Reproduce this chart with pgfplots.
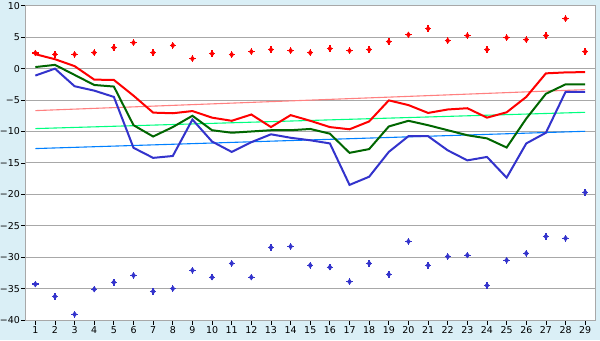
\documentclass[border=0pt]{standalone}
\usepackage{pgfplots}
\pgfplotsset{compat=1.18}
\usepackage{pgfplotstable}
\usepackage{fontspec}
\setmainfont{DejaVu Sans}
\definecolor{bgblue}{RGB}{218,239,246}
\definecolor{gridgray}{RGB}{168,168,168}
\definecolor{lred}{RGB}{255,0,0}
\definecolor{lgreen}{RGB}{0,102,0}
\definecolor{lblue}{RGB}{51,51,204}
\definecolor{tred}{RGB}{255,128,128}
\definecolor{tgreen}{RGB}{0,255,128}
\definecolor{tblue}{RGB}{0,128,255}

\pgfplotstableread{
x red green blue
1 2.3 0.25 -1.1
2 1.5 0.6 0.0
3 0.4 -1.0 -2.8
4 -1.75 -2.6 -3.5
5 -1.8 -2.85 -4.5
6 -4.3 -9.0 -12.6
7 -7.0 -10.8 -14.2
8 -7.1 -9.3 -13.9
9 -6.75 -7.5 -8.1
10 -7.8 -9.8 -11.6
11 -8.3 -10.2 -13.25
12 -7.3 -10.0 -11.7
13 -9.3 -9.8 -10.45
14 -7.4 -9.8 -11.0
15 -8.3 -9.6 -11.4
16 -9.3 -10.35 -11.9
17 -9.65 -13.4 -18.5
18 -8.4 -12.8 -17.2
19 -5.05 -9.2 -13.25
20 -5.8 -8.3 -10.75
21 -7.05 -9.0 -10.75
22 -6.5 -9.8 -13.0
23 -6.3 -10.6 -14.6
24 -7.8 -11.1 -14.05
25 -6.95 -12.55 -17.35
26 -4.5 -7.95 -11.9
27 -0.75 -4.0 -10.2
28 -0.6 -2.5 -3.7
29 -0.55 -2.5 -3.7
}\lines

\pgfplotstableread{
x hi lo
1 2.48 -34.3
2 2.27 -36.25
3 2.27 -39.1
4 2.54 -35.1
5 3.34 -34.0
6 4.13 -32.9
7 2.54 -35.45
8 3.7 -35.0
9 1.59 -32.1
10 2.38 -33.2
11 2.23 -31.0
12 2.7 -33.2
13 3.02 -28.45
14 2.86 -28.3
15 2.54 -31.3
16 3.18 -31.6
17 2.86 -33.9
18 3.02 -31.0
19 4.29 -32.75
20 5.4 -27.5
21 6.36 -31.3
22 4.45 -29.9
23 5.25 -29.7
24 3.02 -34.5
25 4.93 -30.5
26 4.61 -29.4
27 5.25 -26.7
28 7.95 -27.0
29 2.7 -19.7
}\dots

\begin{document}
\begin{tikzpicture}[x=1bp,y=1bp]
\useasboundingbox (0,0) rectangle (600,340);
\fill[bgblue] (0,0) rectangle (600,340);
\begin{axis}[
  at={(25.5bp,20bp)}, anchor=south west,
  scale only axis, width=569.5bp, height=314.2bp,
  xmin=0.5, xmax=29.5, ymin=-40, ymax=10,
  axis background/.style={fill=white},
  xtick={1,...,29},
  ytick={-40,-35,-30,-25,-20,-15,-10,-5,0,5,10},
  yticklabels={−40,−35,−30,−25,−20,−15,−10,−5,0,5,10},
  ymajorgrids, grid style={gridgray, line width=0.9bp},
  axis line style={gridgray, line width=0.9bp},
  tick style={black, line width=0.8bp},
  tick align=outside, tick pos=left,
  major tick length=4.5bp,
  ticklabel style={font=\fontsize{9.5}{11}\selectfont, inner sep=1bp},
  xticklabel style={yshift=-1bp},
  /pgf/number format/assume math mode=true,
  clip=false,
]
\addplot[tred, line width=1.1bp] coordinates {(1,-6.68) (29,-3.34)};
\addplot[tgreen, line width=1.1bp] coordinates {(1,-9.54) (29,-6.95)};
\addplot[tblue, line width=1.1bp] coordinates {(1,-12.72) (29,-9.97)};
\addplot[lred, line width=2bp] table[x=x,y=red] {\lines};
\addplot[lgreen, line width=2bp] table[x=x,y=green] {\lines};
\addplot[lblue, line width=2bp] table[x=x,y=blue] {\lines};
\addplot[only marks, lred, mark=diamond*, mark size=2.6bp, mark options={line width=0.6bp}] table[x=x,y=hi] {\dots};
\addplot[only marks, lred, mark=+, mark size=3.2bp, line width=1.4bp] table[x=x,y=hi] {\dots};
\addplot[only marks, lblue, mark=diamond*, mark size=2.6bp, mark options={line width=0.6bp}] table[x=x,y=lo] {\dots};
\addplot[only marks, lblue, mark=+, mark size=3.2bp, line width=1.4bp] table[x=x,y=lo] {\dots};
\end{axis}
\end{tikzpicture}
\end{document}
